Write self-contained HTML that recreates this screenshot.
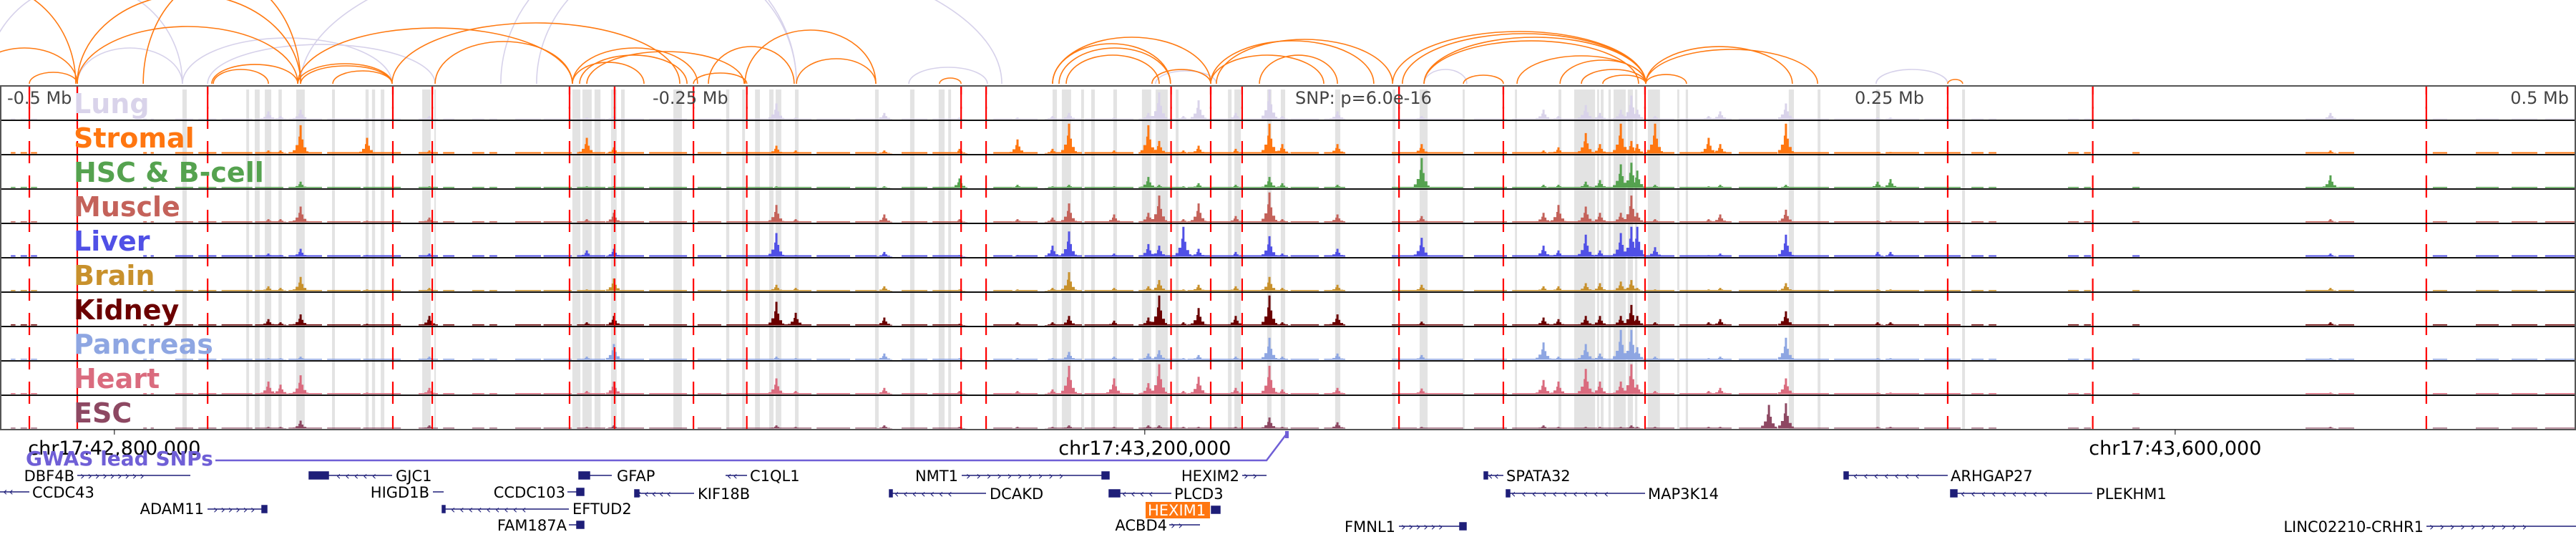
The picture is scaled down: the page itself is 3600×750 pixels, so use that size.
<!DOCTYPE html>
<html><head><meta charset="utf-8">
<style>
html,body{margin:0;padding:0;background:#fff;}
svg{display:block;}
text{font-family:"DejaVu Sans","Liberation Sans",sans-serif;}
</style></head>
<body>
<svg id="chart" width="3600" height="750" viewBox="0 0 3600 750" xmlns="http://www.w3.org/2000/svg">
<defs><clipPath id="arcclip"><rect x="0" y="0" width="3600" height="118"/></clipPath></defs>
<g id="arcs" clip-path="url(#arcclip)"></g>
<g id="bands"></g>
<g id="tracks"></g>
<g id="snps"></g>
<g id="frame"></g>
<g id="labels"></g>
<g id="axis"></g>
</svg>
<script>
// ---- data (positions in kb from window start, chr17:42,755,556) ----
const trackNames = ["Lung","Stromal","HSC & B-cell","Muscle","Liver","Brain","Kidney","Pancreas","Heart","ESC"];
const trackColors = ["#d9d3ea","#ff7610","#55a24f","#c4625a","#5050e6","#c8912c","#6b0000","#8ea6e2","#da6b7e","#8d4862"];
const baselineHeights = [1,2,1.5,1.5,2,1.5,1.5,1.5,1.5,1.2];
const peakPositions = [104.2,108.9,116.7,142.5,166.7,227.8,238.3,301.4,308.9,343.3,372.5,395.0,408.6,415.0,432.5,445.8,450.0,459.4,465.3,479.7,492.8,497.8,519.2,551.9,599.2,605.0,615.6,621.1,629.2,633.3,635.6,642.5,663.3,667.8,686.7,693.3,728.9,733.9,904.7];
const lungValues     = [.25,.1,.3,0,.1,.05,.1,.5,.05,.2,.05,.05,.1,.2,.05,.2,.85,.1,.6,.2,.95,.1,.25,.1,.3,.1,.45,.2,.3,.75,.3,.1,.1,.25,0,.5,.05,.05,.2];
const stromalValues  = [.1,.1,.9,.5,.1,.5,.2,.25,.1,.1,.15,.45,.15,.95,.1,.9,.4,.1,.25,.15,.95,.3,.3,.3,.1,.2,.65,.3,.95,.4,.3,.95,.5,.3,0,.95,.05,.05,.1];
const hscValues      = [0,0,.2,0,.05,.05,.05,.05,0,.05,.3,.1,.05,.1,.05,.35,.1,.05,.15,.1,.35,.15,.1,.95,.1,.1,.2,.25,.75,.8,.55,.1,.05,.1,0,.1,.2,.28,.4];
const muscleValues   = [.1,.1,.5,.05,.15,.1,.3,.55,.1,.25,.1,.1,.15,.6,.25,.3,.85,.1,.6,.2,.95,.1,.25,.2,.3,.55,.5,.3,.3,.85,.3,.1,.1,.25,0,.4,.05,.05,.1];
const liverValues    = [.1,.05,.25,.05,.1,.2,.25,.75,.05,.15,.05,.05,.35,.8,.1,.4,.35,.95,.25,.15,.65,.1,.25,.6,.35,.2,.7,.2,.75,.95,.95,.3,.05,.1,0,.7,.15,.15,.1];
const brainValues    = [.15,.1,.45,.05,.1,.05,.4,.2,.1,.15,.05,.05,.1,.6,.1,.15,.35,.05,.2,.15,.45,.1,.2,.2,.15,.15,.25,.25,.3,.35,.1,.05,.05,.1,0,.25,.05,.05,.1];
const kidneyValues   = [.2,.1,.35,.05,.3,.1,.3,.75,.4,.25,.05,.1,.1,.3,.15,.25,.95,.1,.55,.3,.95,.1,.35,.12,.25,.2,.3,.3,.3,.65,.3,.1,.1,.2,0,.45,.1,.1,.1];
const pancreasValues = [.05,.05,.1,0,.1,.1,.5,.1,.05,.2,.05,.05,.05,.25,.1,.2,.3,.05,.15,.1,.7,.1,.2,.15,.55,.1,.5,.2,.95,.95,.4,.1,.05,.1,0,.7,.05,.05,.05];
const heartValues    = [.4,.3,.6,.05,.2,.1,.4,.5,.1,.2,.1,.1,.15,.9,.5,.35,.95,.1,.55,.2,.9,.15,.2,.18,.45,.4,.8,.4,.4,.95,.3,.1,.1,.2,0,.5,.05,.05,.05];
const escValues      = [.05,.05,.25,.02,.1,.05,.1,.1,.05,.1,.05,.05,.05,.1,.05,.1,.1,.05,.05,.05,.35,.05,.2,.05,.1,.05,.05,.05,.05,.1,.05,.05,.05,.05,.75,.8,.05,.05,.05];
const baselineSegments = [[4.2,6],[8,10.5],[12,14.4],[55.6,57],[58.5,59.7],[68,75],[77,84],[86,98],[99,110],[112,125],[127,140],[141,155.6],[162.5,170],[172,176.4],[183.3,188],[190,193],[200,210],[211,222],[224,235],[236,250],[252,266.7],[270.8,280],[282,300],[301,315],[317,330],[332,340.3],[350,360],[362,373.6],[385.6,393],[395,402.8],[406.9,420],[421,440],[442,460],[461,480],[481,500],[501,512],[514,522.2],[540.3,550],[552,568],[572.2,585],[587,600],[601,620],[621,636.1],[638.9,650],[652,672.2],[675,690],[692,710],[712,730],[732,745],[747,761.1],[765.3,770],[772,775],[802.8,807],[809,811.7],[827.8,830.6],[895,905],[907.8,913.9],[944.4,950],[961.1,970],[975,985],[988,1000]];
const bandRanges = [[70.8,72.5],[95.6,96.7],[98.9,100.8],[102.8,105.3],[108.1,109.4],[115,118.3],[128.9,130],[141.9,143.1],[144.4,145.6],[147.8,149.2],[163.9,167.2],[168.6,169.2],[222.2,225.3],[226.1,229.7],[230.8,233.1],[237.2,239.4],[241.1,242.5],[261.4,264.7],[281.9,283.1],[288.1,289.2],[293.1,295],[298.6,300.3],[301.1,303.3],[308.6,310],[339.7,341.1],[353.3,355],[364.4,366.7],[368.1,369.2],[408.6,410.3],[412.2,415.8],[419.7,420.8],[423.6,425],[432.2,433.6],[443.3,446.9],[448.6,453.3],[456.4,457.5],[476.7,478.1],[479.2,481.7],[491.9,493.6],[497.2,498.9],[518.3,520.3],[540.6,541.7],[551.1,554.2],[567.8,568.6],[588.1,588.9],[605,606.1],[611.1,619.2],[620,620.8],[621.4,622.5],[624.4,625.3],[626.4,631.1],[631.9,633.9],[634.7,635.6],[639.7,644.4],[651.1,651.9],[654.4,655.3],[694.4,696.4],[705.6,706.7],[728.3,729.7],[761.7,762.8]];
const snpPositions = [11.4,30,80.6,152.5,167.8,221.1,238.6,269.2,289.9,373.1,382.8,454.6,470,482.2,543.1,583.6,638.6,756.1,812.4,941.9];
const orangeLoops = [[11.4,30,16],[-11.1,30,50],[30,115.6,80],[30,116.7,125],[-41.7,29.4,140],[82.2,115.6,27],[82.8,104.2,20],[115.6,152.2,28],[116.7,152.2,25],[129.2,152.2,18],[152.2,263.9,85],[115.6,222.2,78],[55.6,116.7,150],[168.9,222.2,59],[222.2,270.8,50],[227.8,288.9,45],[225,266.7,40],[222.2,250,30],[289.2,340,75],[275,308.3,52],[309.2,340,35],[364.7,373.1,8],[408.6,454.4,56],[411.1,454.4,50],[413.9,450,40],[408.6,470,65],[447.2,470,20],[470,513.9,40],[470,533.3,60],[472.2,540.6,62],[488.9,519.2,40],[540.6,638.9,73],[544.4,638.9,70],[552.8,638.9,65],[552.8,636.1,60],[568.1,583.6,12],[588.9,638.9,39],[605.6,638.9,33],[613.9,638.9,20],[622.2,638.9,12],[638.9,695.8,52],[638.9,705.6,48],[638.9,654.7,13],[756.1,761.9,6],[269.2,289.9,15]];
const lavenderLoops = [[-5.6,70.8,140],[30,70.8,50],[70.8,152.2,64],[80.6,168.9,55],[116.7,388.9,200],[194.4,309.2,200],[208.3,309.2,180],[352.8,383.3,23],[448.6,472.2,18],[613.9,638.9,20],[728.3,756.1,20],[552.8,569.4,20]];
const axisTicks = [44.4,444.4,844.4];
const axisLabels = ["chr17:42,800,000","chr17:43,200,000","chr17:43,600,000"];

const NS="http://www.w3.org/2000/svg";
const pxPerKb=3.6, TOP=120, TH=48, NT=10;
function xs(kb){return kb*pxPerKb;}
function mk(tag,attrs,parent){const e=document.createElementNS(NS,tag);for(const k in attrs)e.setAttribute(k,attrs[k]);parent.appendChild(e);return e;}
const allValues=[lungValues,stromalValues,hscValues,muscleValues,liverValues,brainValues,kidneyValues,pancreasValues,heartValues,escValues];

const gA=document.getElementById('arcs');
function drawLoops(list,color,name){
  list.forEach(l=>{
    const x1=xs(l[0]),x2=xs(l[1]),rx=(x2-x1)/2,h=l[2];
    const p=mk('path',{d:`M${x1},117 A${rx},${h} 0 0 1 ${x2},117`,fill:'none',stroke:color,'stroke-width':1.6},gA);
    
    
  });
}
drawLoops(lavenderLoops,'#d6d1ea','lavender-loop');
drawLoops(orangeLoops,'#ff7a12','orange-loop');

const gB=document.getElementById('bands');
bandRanges.forEach(b=>{
  const r=mk('rect',{x:xs(b[0]),y:TOP+5,width:Math.max(2,xs(b[1])-xs(b[0])),height:NT*TH-5,fill:'#e3e3e3'},gB);
  
  
});

const gT=document.getElementById('tracks');
allValues.forEach((vals,t)=>{
  const base=TOP+(t+1)*TH-1.5, col=trackColors[t];
  const g=mk('g',{},gT);
  
  
  baselineSegments.forEach(s=>{
    const r=mk('rect',{x:xs(s[0]),y:base-baselineHeights[t],width:xs(s[1])-xs(s[0]),height:baselineHeights[t],fill:col},g);
    
    
  });
  peakPositions.forEach((p,i)=>{
    const v=vals[i]; if(!v) return;
    const x=xs(p), h=v*44;
    const pts=[[x-11,base],[x-11,base-h*0.12],[x-7,base-h*0.12],[x-7,base-h*0.3],[x-3,base-h*0.3],[x-3,base-h*0.6],[x-1.5,base-h*0.6],[x-1.5,base-h],[x+1.5,base-h],[x+1.5,base-h*0.5],[x+4,base-h*0.5],[x+4,base-h*0.22],[x+8,base-h*0.22],[x+8,base-h*0.08],[x+11,base-h*0.08],[x+11,base]];
    const pg=mk('polygon',{points:pts.map(q=>q.join(',')).join(' '),fill:col},g);
    
    
  });
});

const gS=document.getElementById('snps');
snpPositions.forEach(p=>{
  const l=mk('line',{x1:xs(p),x2:xs(p),y1:TOP,y2:TOP+NT*TH,stroke:'#ff0000','stroke-width':2.2,'stroke-dasharray':'31 17','stroke-dashoffset':'19'},gS);
  
  
  const t=mk('line',{x1:xs(p),x2:xs(p),y1:TOP,y2:TOP+32,stroke:'#ff0000','stroke-width':2.2},gS);
  
  
});

const gF=document.getElementById('frame');
mk('line',{x1:0,x2:3600,y1:TOP,y2:TOP,stroke:'#555','stroke-width':2},gF);
for(let t=1;t<=NT;t++){mk('line',{x1:0,x2:3600,y1:TOP+t*TH,y2:TOP+t*TH,stroke:t==NT?'#555':'#111','stroke-width':2},gF);}
mk('line',{x1:1,x2:1,y1:TOP,y2:TOP+NT*TH,stroke:'#555','stroke-width':2},gF);
mk('line',{x1:3599,x2:3599,y1:TOP,y2:TOP+NT*TH,stroke:'#555','stroke-width':2},gF);

const gL=document.getElementById('labels');
trackNames.forEach((n,t)=>{
  const tx=mk('text',{x:103,y:TOP+t*TH+38,fill:trackColors[t],'font-size':38,'font-weight':'bold'},gL);
  tx.textContent=n;
  
  
});
const scaleTexts=[["-0.5 Mb",10,'start'],["-0.25 Mb",912,'start'],["SNP: p=6.0e-16",1810,'start'],["0.25 Mb",2689,'end'],["0.5 Mb",3590,'end']];
scaleTexts.forEach(s=>{
  const tx=mk('text',{x:s[1],y:145,fill:'#444','font-size':24,'text-anchor':s[2]},gL);
  tx.textContent=s[0];
  
  
});

const gX=document.getElementById('axis');
axisTicks.forEach((p,i)=>{
  mk('line',{x1:xs(p),x2:xs(p),y1:600,y2:607,stroke:'#000','stroke-width':1},gX);
  const tx=mk('text',{x:xs(p),y:635,'font-size':27,'text-anchor':'middle',fill:'#000'},gX);
  tx.textContent=axisLabels[i];
  
  
});
</script>
<svg style="position:absolute;left:0;top:0" width="3600" height="750">
  <g font-family="DejaVu Sans, Liberation Sans, sans-serif" font-size="21" fill="#000">
    <path d="M301,643 H1770 L1798,606" fill="none" stroke="#6f5fd6" stroke-width="2.5"/>
    <rect x="1796" y="602" width="5" height="10" fill="#6f5fd6"/>
    <text x="36" y="650" font-size="28" font-weight="bold" fill="#6f5fd6">GWAS lead SNPs</text>
    <g stroke="#1e1e78" stroke-width="1.5" fill="#1e1e78">
      <line x1="108" y1="664" x2="266" y2="664"/>
      <line x1="0" y1="687" x2="41" y2="687"/>
      <line x1="290" y1="711" x2="373" y2="711"/><rect x="366" y="706" width="7" height="10"/>
      <rect x="432" y="659" width="27" height="10"/><line x1="459" y1="664" x2="548" y2="664"/>
      <line x1="605" y1="687" x2="620" y2="687"/>
      <line x1="793" y1="687" x2="816" y2="687"/><rect x="806" y="682" width="10" height="10"/>
      <line x1="618" y1="711" x2="795" y2="711"/><rect x="618" y="706" width="4" height="10"/>
      <line x1="795" y1="733" x2="816" y2="733"/><rect x="806" y="728" width="10" height="10"/>
      <rect x="809" y="659" width="15" height="10"/><line x1="824" y1="664" x2="855" y2="664"/>
      <line x1="1014" y1="664" x2="1044" y2="664"/>
      <line x1="887" y1="689" x2="970" y2="689"/><rect x="887" y="684" width="6" height="10"/>
      <line x1="1344" y1="664" x2="1550" y2="664"/><rect x="1540" y="659" width="10" height="10"/>
      <line x1="1243" y1="689" x2="1378" y2="689"/><rect x="1243" y="684" width="4" height="10"/>
      <line x1="1736" y1="664" x2="1770" y2="664"/>
      <rect x="1550" y="684" width="15" height="10"/><line x1="1565" y1="689" x2="1637" y2="689"/>
      <rect x="1693" y="707" width="12" height="10"/>
      <line x1="1634" y1="733" x2="1677" y2="733"/>
      <line x1="2074" y1="664" x2="2101" y2="664"/><rect x="2074" y="659" width="5" height="10"/>
      <line x1="2105" y1="689" x2="2299" y2="689"/><rect x="2105" y="684" width="5" height="10"/>
      <line x1="1955" y1="735" x2="2049" y2="735"/><rect x="2040" y="730" width="9" height="10"/>
      <line x1="2577" y1="664" x2="2722" y2="664"/><rect x="2577" y="659" width="6" height="10"/>
      <line x1="2726" y1="689" x2="2924" y2="689"/><rect x="2726" y="684" width="9" height="10"/>
      <line x1="3391" y1="735" x2="3600" y2="735"/>
    </g>
    <g font-size="16" fill="#1e1e78">
      <text x="112" y="670" letter-spacing="4">›››››››››</text>
      <text x="470" y="670" letter-spacing="6">‹‹‹‹‹</text>
      <text x="2112" y="695" letter-spacing="8">‹‹‹‹‹‹‹‹‹‹</text>
      <text x="2590" y="670" letter-spacing="8">‹‹‹‹‹‹‹</text>
      <text x="2740" y="695" letter-spacing="8">‹‹‹‹‹‹‹‹‹</text>
      <text x="3395" y="741" letter-spacing="8">››››››››››</text>
      <text x="1350" y="670" letter-spacing="8">››››››››››</text>
      <text x="1250" y="695" letter-spacing="6">‹‹‹‹‹‹‹</text>
      <text x="630" y="717" letter-spacing="6">‹‹‹‹‹‹‹‹‹</text>
      <text x="298" y="717" letter-spacing="4">››››››</text>
      <text x="1958" y="741" letter-spacing="4">››››››</text>
      <text x="1016" y="670" letter-spacing="2">‹‹</text>
      <text x="1738" y="670" letter-spacing="6">››</text>
      <text x="1568" y="695" letter-spacing="6">‹‹‹‹</text>
      <text x="1636" y="739" letter-spacing="4">››</text>
      <text x="2080" y="670" letter-spacing="2">‹‹</text>
      <text x="890" y="695" letter-spacing="4">‹‹‹‹‹</text>
      <text x="4" y="692" letter-spacing="2">‹‹</text>
    </g>
    <text x="104" y="672" text-anchor="end">DBF4B</text>
    <text x="45" y="695">CCDC43</text>
    <text x="285" y="718" text-anchor="end">ADAM11</text>
    <text x="553" y="672">GJC1</text>
    <text x="600" y="695" text-anchor="end">HIGD1B</text>
    <text x="790" y="695" text-anchor="end">CCDC103</text>
    <text x="800" y="718">EFTUD2</text>
    <text x="792" y="741" text-anchor="end">FAM187A</text>
    <text x="862" y="672">GFAP</text>
    <text x="1048" y="672">C1QL1</text>
    <text x="975" y="697">KIF18B</text>
    <text x="1339" y="672" text-anchor="end">NMT1</text>
    <text x="1383" y="697">DCAKD</text>
    <text x="1732" y="672" text-anchor="end">HEXIM2</text>
    <text x="1641" y="697">PLCD3</text>
    <rect x="1601" y="701" width="90" height="23" fill="#ff7610"/>
    <text x="1604" y="720" fill="#fff">HEXIM1</text>
    <text x="1631" y="741" text-anchor="end">ACBD4</text>
    <text x="2105" y="672">SPATA32</text>
    <text x="2303" y="697">MAP3K14</text>
    <text x="1950" y="743" text-anchor="end">FMNL1</text>
    <text x="2726" y="672">ARHGAP27</text>
    <text x="2929" y="697">PLEKHM1</text>
    <text x="3387" y="743" text-anchor="end">LINC02210-CRHR1</text>
  </g>
</svg>
</body></html>
